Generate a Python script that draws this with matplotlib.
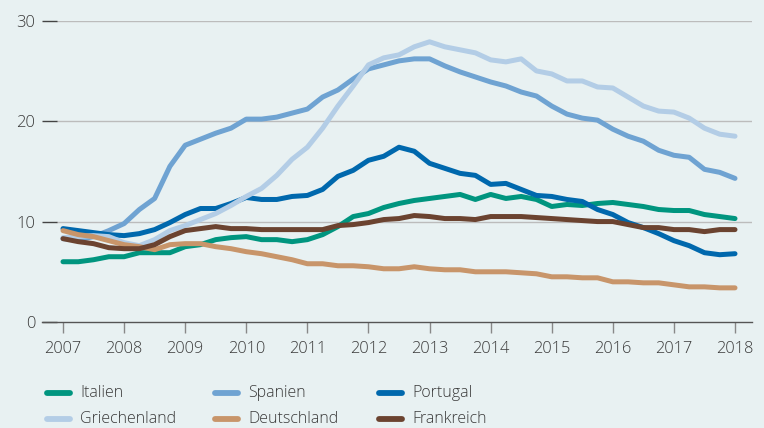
import numpy as np
import matplotlib
matplotlib.use("Agg")
import matplotlib.pyplot as plt
from matplotlib.lines import Line2D

# ---- data (quarterly, 2007Q1 .. 2018Q1) ----
years = np.arange(2007, 2018.01, 0.25)

italien = [6.0, 6.0, 6.2, 6.5, 6.5, 6.9, 6.9, 6.9, 7.5, 7.7, 8.2, 8.4, 8.5,
           8.2, 8.2, 8.0, 8.2, 8.7, 9.5, 10.5, 10.8, 11.4, 11.8, 12.1, 12.3,
           12.5, 12.7, 12.2, 12.7, 12.3, 12.5, 12.2, 11.5, 11.7, 11.6, 11.8,
           11.9, 11.7, 11.5, 11.2, 11.1, 11.1, 10.7, 10.5, 10.3]
spanien = [8.3, 8.2, 8.5, 9.1, 9.8, 11.2, 12.3, 15.5, 17.6, 18.2, 18.8, 19.3,
           20.2, 20.2, 20.4, 20.8, 21.2, 22.4, 23.1, 24.2, 25.2, 25.6, 26.0,
           26.2, 26.2, 25.5, 24.9, 24.4, 23.9, 23.5, 22.9, 22.5, 21.5, 20.7,
           20.3, 20.1, 19.2, 18.5, 18.0, 17.1, 16.6, 16.4, 15.2, 14.9, 14.3]
portugal = [9.3, 9.1, 8.9, 8.7, 8.6, 8.8, 9.2, 9.9, 10.7, 11.3, 11.3, 11.8,
            12.4, 12.2, 12.2, 12.5, 12.6, 13.2, 14.5, 15.1, 16.1, 16.5, 17.4,
            17.0, 15.8, 15.3, 14.8, 14.6, 13.7, 13.8, 13.2, 12.6, 12.5, 12.2,
            12.0, 11.2, 10.7, 9.9, 9.4, 8.8, 8.1, 7.6, 6.9, 6.7, 6.8]
griechenland = [8.4, 8.5, 8.6, 8.5, 7.9, 7.6, 8.2, 9.1, 9.6, 10.2, 10.8, 11.6,
                12.5, 13.3, 14.6, 16.2, 17.4, 19.3, 21.5, 23.5, 25.6, 26.3,
                26.6, 27.4, 27.9, 27.4, 27.1, 26.8, 26.1, 25.9, 26.2, 25.0,
                24.7, 24.0, 24.0, 23.4, 23.3, 22.4, 21.5, 21.0, 20.9, 20.3,
                19.3, 18.7, 18.5]
deutschland = [9.1, 8.7, 8.5, 8.1, 7.7, 7.5, 7.2, 7.7, 7.8, 7.8, 7.5, 7.3,
               7.0, 6.8, 6.5, 6.2, 5.8, 5.8, 5.6, 5.6, 5.5, 5.3, 5.3, 5.5,
               5.3, 5.2, 5.2, 5.0, 5.0, 5.0, 4.9, 4.8, 4.5, 4.5, 4.4, 4.4,
               4.0, 4.0, 3.9, 3.9, 3.7, 3.5, 3.5, 3.4, 3.4]
frankreich = [8.3, 8.0, 7.8, 7.4, 7.3, 7.3, 7.7, 8.5, 9.1, 9.3, 9.5, 9.3,
              9.3, 9.2, 9.2, 9.2, 9.2, 9.2, 9.6, 9.7, 9.9, 10.2, 10.3, 10.6,
              10.5, 10.3, 10.3, 10.2, 10.5, 10.5, 10.5, 10.4, 10.3, 10.2,
              10.1, 10.0, 10.0, 9.7, 9.4, 9.4, 9.2, 9.2, 9.0, 9.2, 9.2]

labels = ["Italien", "Spanien", "Portugal", "Griechenland", "Deutschland", "Frankreich"]
series = [italien, spanien, portugal, griechenland, deutschland, frankreich]
colors = ["#00957f", "#6fa3d2", "#0068ad", "#b3cde6", "#c8956a", "#6b4330"]
xticks = list(range(2007, 2019))
yticks = [0, 10, 20, 30]

BG = "#e8f1f2"
TXT = "#3a3a3a"

plt.rcParams['font.family'] = ['Open Sans', 'DejaVu Sans']

W, H = 764, 428
fig = plt.figure(figsize=(W / 100, H / 100), dpi=100, facecolor=BG)

# axes: x from px 42 to 752, y from px 322 (0) to 20.7 (30)
ax = fig.add_axes([42 / W, (H - 322) / H, 710 / W, (322 - 20.7) / H])
ax.set_facecolor(BG)
px_per_year = (735 - 63) / 11
ax.set_xlim(2007 - (63 - 42) / px_per_year, 2018 + (752 - 735) / px_per_year)
ax.set_ylim(0, 30)

for s in ["top", "right", "left"]:
    ax.spines[s].set_visible(False)
ax.spines["bottom"].set_color("#555555")
ax.spines["bottom"].set_linewidth(1.0)

# gridlines starting after the y tick marks
for yv in yticks[1:]:
    ax.axhline(yv, xmin=15 / 710, xmax=1, color="#bcbcbc", lw=1.0, zorder=1)

ax.set_yticks(yticks)
ax.set_yticklabels([str(v) for v in yticks])
ax.tick_params(axis="y", direction="in", length=11, width=1.0, color="#444444",
               pad=5, labelsize=12, labelcolor=TXT)
ax.set_xticks(xticks)
ax.set_xticklabels([str(v) for v in xticks])
ax.tick_params(axis="x", direction="out", length=8, width=1.0, color="#888888",
               pad=6, labelsize=11.8, labelcolor=TXT)
for lab in ax.get_xticklabels() + ax.get_yticklabels():
    lab.set_fontweight("light")

for i, (lab, vals, col) in enumerate(zip(labels, series, colors)):
    ax.plot(years, vals, color=col, lw=3.6, solid_capstyle="round",
            solid_joinstyle="round", zorder=3 + i, clip_on=False, label=lab)

# legend (manual, 3 columns x 2 rows)
col_x = [45, 213, 377]
row_y = [393, 419]
for i, (lab, col) in enumerate(zip(labels, colors)):
    r, c = divmod(i, 3)
    x0 = col_x[c]
    y0 = row_y[r]
    fig.add_artist(Line2D([(x0 + 2) / W, (x0 + 25) / W], [1 - y0 / H, 1 - y0 / H],
                          color=col, lw=4.2, solid_capstyle="round"))
    fig.text((x0 + 35) / W, 1 - y0 / H, lab, fontsize=11.5, color=TXT,
             fontweight="light", va="center", ha="left")

fig.savefig("out.png", dpi=100, facecolor=BG)
